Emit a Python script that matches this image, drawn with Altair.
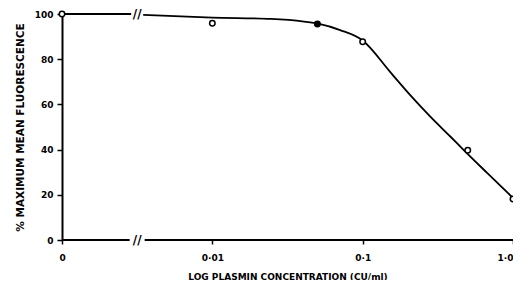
import altair as alt
import pandas as pd

# Measured points: log10 plasmin concentration position (0 drawn at -3), % max mean fluorescence
pt_labels = ["0", "0·01", "0·05", "0·1", "0·5", "1·0"]
pt_logx = [-3.0, -2.0, -1.301, -1.0, -0.301, 0.0]
pt_y = [100, 95.9, 95.6, 87.7, 39.7, 18.1]
pt_filled = [False, False, True, False, False, False]

# Hand-drawn fitted curve (two pieces around the axis break)
curve_left_x = [-3.0, -2.54]
curve_left_y = [100, 100]
curve_right_x = [-2.46, -2.0, -1.61, -1.39, -1.29, -1.15, -1.0, -0.815, -0.682, -0.55, -0.417, -0.329, -0.174, 0.0]
curve_right_y = [99.6, 98.4, 97.8, 96.6, 95.6, 92.9, 88.3, 74.2, 64.0, 54.6, 45.8, 39.9, 29.8, 18.6]

# x-axis ticks
tick_values = [-3, -2, -1, 0]
tick_labels = ["0", "0·01", "0·1", "1·0"]

# axis break position
break_x = -2.5
break_ys = [0, 99.8]
baseline_segments = [(-3.0, -2.55), (-2.45, 0.0)]

FONT = "DejaVu Sans"

pts = pd.DataFrame({"lab": pt_labels, "u": pt_logx, "y": pt_y, "filled": pt_filled})
curve = pd.DataFrame({
    "u": curve_left_x + curve_right_x,
    "y": curve_left_y + curve_right_y,
    "seg": ["a"] * len(curve_left_x) + ["b"] * len(curve_right_x),
    "o": list(range(len(curve_left_x))) + list(range(len(curve_right_x))),
})
base_df = pd.DataFrame({"u": [s[0] for s in baseline_segments], "u2": [s[1] for s in baseline_segments], "y": [0, 0]})
brk = pd.DataFrame({"u": [break_x] * len(break_ys), "y": break_ys, "t": ["//"] * len(break_ys)})

label_expr = " : ".join(
    [f"datum.value == {v} ? '{l}'" for v, l in zip(tick_values, tick_labels)]
) + " : ''"

xscale = alt.Scale(domain=[-3, 0], nice=False, zero=False)
yscale = alt.Scale(domain=[0, 100], nice=False)

xaxis = alt.Axis(
    values=tick_values, labelExpr=label_expr, domain=False, grid=False,
    tickColor="black", tickSize=4, tickWidth=1.5, labelPadding=9,
    labelAlign=alt.ExprRef(expr="datum.value == 0 ? 'right' : 'center'"),
    labelFont=FONT, labelFontSize=9, labelFontWeight="bold", labelColor="black",
    title="LOG PLASMIN CONCENTRATION (CU/ml)", titleFont=FONT, titleFontSize=9,
    titleFontWeight="bold", titleColor="black", titlePadding=10,
)
yaxis = alt.Axis(
    values=[0, 20, 40, 60, 80, 100], domain=True, domainColor="black", domainWidth=2,
    grid=False, tickColor="black", tickSize=5, tickWidth=1.5, labelPadding=4,
    labelFont=FONT, labelFontSize=9, labelFontWeight="bold", labelColor="black",
    title="% MAXIMUM MEAN FLUORESCENCE", titleFont=FONT, titleFontSize=10.5,
    titleFontWeight="bold", titleColor="black", titlePadding=9,
)

lines = alt.Chart(curve).mark_line(color="black", strokeWidth=1.8, interpolate="monotone").encode(
    x=alt.X("u:Q", scale=xscale, axis=xaxis),
    y=alt.Y("y:Q", scale=yscale, axis=yaxis),
    detail="seg:N",
    order="o:Q",
)

baseline = alt.Chart(base_df).mark_rule(color="black", strokeWidth=2).encode(
    x=alt.X("u:Q", scale=xscale), x2="u2:Q", y=alt.Y("y:Q", scale=yscale)
)

breaks = alt.Chart(brk).mark_text(font=FONT, fontSize=12, fontWeight="bold", color="black").encode(
    x=alt.X("u:Q", scale=xscale), y=alt.Y("y:Q", scale=yscale), text="t:N"
)

points = alt.Chart(pts).mark_point(shape="circle", size=30, strokeWidth=1.5, color="black", opacity=1).encode(
    x=alt.X("u:Q", scale=xscale),
    y=alt.Y("y:Q", scale=yscale),
    fill=alt.condition("datum.filled", alt.value("black"), alt.value("white")),
)

chart = alt.layer(lines, baseline, breaks, points).properties(
    width=451, height=226,
    background="white",
    autosize=alt.AutoSizeParams(type="none"),
    padding={"left": 54, "top": 6, "right": 0, "bottom": 40},
).configure_view(stroke="transparent", strokeWidth=0).configure_axis(grid=False)

chart.save("out.html", embed_options={"renderer": "svg", "actions": False})
